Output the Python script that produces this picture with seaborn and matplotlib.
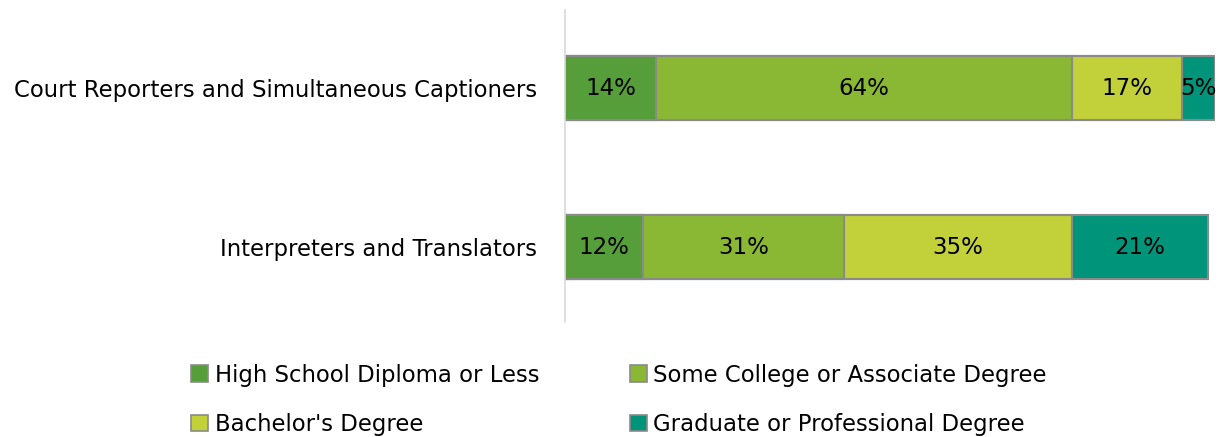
import numpy as np
import pandas as pd
import matplotlib
matplotlib.use("Agg")
import matplotlib.pyplot as plt
import seaborn as sns
from matplotlib.patches import Patch

# ===========================
# DATA
# ===========================
occupations = ["Court Reporters and Simultaneous Captioners", "Interpreters and Translators"]
levels = ["High School Diploma or Less", "Some College or Associate Degree",
          "Bachelor's Degree", "Graduate or Professional Degree"]
high_school = [14, 12]
some_college = [64, 31]
bachelors = [17, 35]
graduate = [5, 21]

colors = ["#559E3A", "#8BB834", "#C2D03A", "#00957A"]
edge = "#8a8a8a"

sns.set_theme(style="white")
plt.rcParams["font.family"] = ["DejaVu Sans"]
plt.rcParams["text.color"] = "black"
plt.rcParams["ytick.color"] = "black"

shares = np.array([high_school, some_college, bachelors, graduate], dtype=float)
cum = shares.cumsum(axis=0)

fig = plt.figure(figsize=(12.21, 4.37), dpi=100)
ax = fig.add_axes([0.4627, 0.263, 0.5323, 0.714])

# stacked bars: draw cumulative totals from the outermost layer inward
for i in range(len(levels) - 1, -1, -1):
    df = pd.DataFrame({"occupation": occupations, "value": cum[i]})
    sns.barplot(data=df, y="occupation", x="value", order=occupations,
                color=colors[i], orient="h", width=0.4, ax=ax,
                edgecolor=edge, linewidth=1.5, saturation=1)

# segment labels
for i in range(len(levels)):
    for j in range(len(occupations)):
        center = cum[i, j] - shares[i, j] / 2
        ax.text(center, j, f"{int(shares[i, j])}%", ha="center", va="center",
                fontsize=16.5, color="black")

ax.set_xlim(0, 100)
ax.set_ylim(1.47, -0.49)
ax.set_xlabel("")
ax.set_ylabel("")
ax.set_xticks([])
ax.tick_params(axis="y", length=0, pad=20, labelsize=16.4, labelcolor="black")
for s in ["top", "right", "bottom"]:
    ax.spines[s].set_visible(False)
ax.spines["left"].set_color("#d9d9d9")
ax.spines["left"].set_linewidth(1.2)

# legend ordered column-wise so rows read HS / Some College, Bachelor / Graduate
handles = [Patch(facecolor=colors[k], edgecolor=edge, linewidth=1.2, label=levels[k]) for k in range(4)]
order = [0, 2, 1, 3]
fig.legend([handles[k] for k in order], [levels[k] for k in order],
           loc="center", bbox_to_anchor=(0.507, 0.085), ncol=2, frameon=False,
           fontsize=16.4, handlelength=0.75, handleheight=0.75, handletextpad=0.3,
           columnspacing=3.95, labelspacing=1.15)

fig.savefig("out.png", dpi=100)
